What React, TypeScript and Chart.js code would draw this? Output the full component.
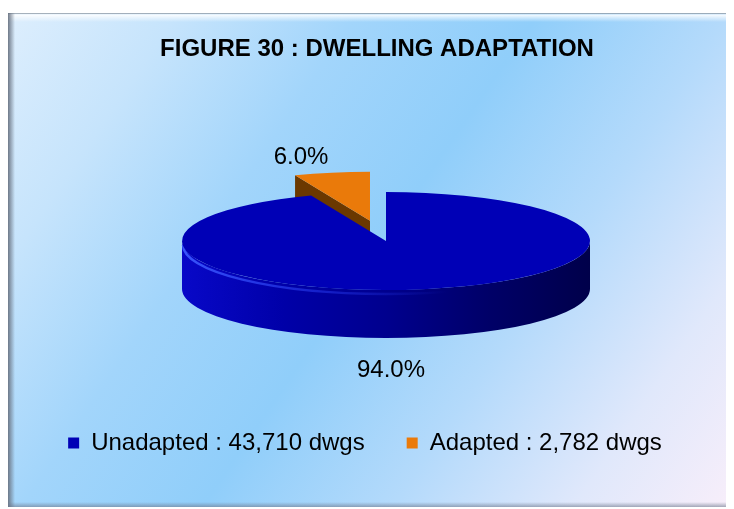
import React, { useEffect, useRef } from "react";
import { Chart, registerables } from "chart.js";

Chart.register(...registerables);

// ---------------- data ----------------
const TITLE = "FIGURE 30 : DWELLING ADAPTATION";
const CATEGORIES = ["Unadapted", "Adapted"];
const DWELLINGS = [43710, 2782];
const UNIT = "dwgs";
const EXPLODED = [false, true];

// ---------------- style ----------------
const FONT = '"Liberation Sans", Arial, Helvetica, sans-serif';
const TOP_COLORS = ["#0000B6", "#EA7A0A"];
const FACE_COLORS = ["#00008C", "#6B3800"];
const SIDE_STOPS: [number, string][][] = [
  [
    [0, "#0808C8"],
    [0.25, "#0000A8"],
    [0.5, "#00008E"],
    [0.75, "#000068"],
    [1, "#00004A"],
  ],
  [
    [0, "#B05A06"],
    [1, "#5A2E00"],
  ],
];
// projected pie geometry (canvas px)
const PIE = { cx: 378, cy: 233, rx: 204, ry: 49, depth: 48, explode: 0.42 };
// label anchor offsets relative to the projected pie centre
const LABEL_OFFSETS = [
  [5, 129],
  [-85, -84],
];
const TITLE_POS = [369, 41];

const total = DWELLINGS.reduce((a, b) => a + b, 0);

const backgroundPlugin = {
  id: "panelBackground",
  beforeDraw(chart: any) {
    const ctx = chart.ctx as CanvasRenderingContext2D;
    const W = chart.width;
    const H = chart.height;
    ctx.save();
    ctx.fillStyle = "#ffffff";
    ctx.fillRect(0, 0, W, H);
    const x0 = 0, y0 = 5, x1 = 725, y1 = 499;
    const g = ctx.createLinearGradient(x0, y0, x1, y1);
    g.addColorStop(0, "#DDEEFD");
    g.addColorStop(0.16, "#C6E4FC");
    g.addColorStop(0.33, "#A2D5FB");
    g.addColorStop(0.5, "#90CEFA");
    g.addColorStop(0.68, "#B4DAFB");
    g.addColorStop(0.85, "#E0E8FB");
    g.addColorStop(1, "#F8EEFA");
    ctx.fillStyle = g;
    ctx.fillRect(x0, y0, x1 - x0, y1 - y0);
    // top bevel
    let b = ctx.createLinearGradient(0, y0, 0, y0 + 9);
    b.addColorStop(0, "rgba(255,255,255,0.0)");
    b.addColorStop(0.25, "rgba(255,255,255,0.85)");
    b.addColorStop(1, "rgba(255,255,255,0)");
    ctx.fillStyle = b;
    ctx.fillRect(x0, y0, x1 - x0, 9);
    ctx.fillStyle = "rgba(140,150,160,0.7)";
    ctx.fillRect(x0, y0, x1 - x0, 1);
    // left bevel
    b = ctx.createLinearGradient(x0, 0, x0 + 7, 0);
    b.addColorStop(0, "rgba(105,115,130,0.95)");
    b.addColorStop(1, "rgba(105,115,130,0)");
    ctx.fillStyle = b;
    ctx.fillRect(x0, y0, 7, y1 - y0);
    // bottom bevel
    b = ctx.createLinearGradient(0, y1 - 5, 0, y1);
    b.addColorStop(0, "rgba(110,120,140,0)");
    b.addColorStop(1, "rgba(110,120,140,0.6)");
    ctx.fillStyle = b;
    ctx.fillRect(x0, y1 - 5, x1 - x0, 5);
    // right bevel
    b = ctx.createLinearGradient(x1 - 6, 0, x1, 0);
    b.addColorStop(0, "rgba(150,160,175,0)");
    b.addColorStop(1, "rgba(150,160,175,0.55)");
    ctx.fillStyle = b;
    ctx.fillRect(x1 - 6, y0, 6, y1 - y0);
    ctx.restore();
  },
};

const pie3dPlugin = {
  id: "pie3d",
  beforeDatasetsDraw(chart: any) {
    const meta = chart.getDatasetMeta(0);
    const arcs = meta.data as any[];
    if (!arcs || !arcs.length) return;
    const ctx = chart.ctx as CanvasRenderingContext2D;
    const R = arcs[0].outerRadius;
    const ox = arcs[0].x;
    const oy = arcs[0].y;
    const { cx, cy, rx, ry, depth, explode } = PIE;

    const shift = (i: number) => {
      if (!EXPLODED[i]) return [0, 0];
      const a = arcs[i];
      const mid = (a.startAngle + a.endAngle) / 2;
      return [rx * explode * Math.cos(mid), ry * explode * Math.sin(mid)];
    };
    const pt = (a: number, r: number, dx: number, dy: number, z: number) => [
      cx + dx + rx * r * Math.cos(a),
      cy + dy + ry * r * Math.sin(a) + z,
    ];

    ctx.save();
    // radial cut faces
    arcs.forEach((arc, i) => {
      const [dx, dy] = shift(i);
      const faces = [
        { ang: arc.startAngle, ny: -Math.cos(arc.startAngle) },
        { ang: arc.endAngle, ny: Math.cos(arc.endAngle) },
      ];
      faces.forEach((f) => {
        if (f.ny <= 0.01) return;
        const c0 = pt(0, 0, dx, dy, 0);
        const r0 = pt(f.ang, 1, dx, dy, 0);
        const r1 = pt(f.ang, 1, dx, dy, depth);
        const c1 = pt(0, 0, dx, dy, depth);
        ctx.beginPath();
        ctx.moveTo(c0[0], c0[1]);
        ctx.lineTo(r0[0], r0[1]);
        ctx.lineTo(r1[0], r1[1]);
        ctx.lineTo(c1[0], c1[1]);
        ctx.closePath();
        ctx.fillStyle = FACE_COLORS[i];
        ctx.fill();
      });
    });

    // outer rim (front half only)
    const TAU = Math.PI * 2;
    arcs.forEach((arc, i) => {
      const [dx, dy] = shift(i);
      let s = arc.startAngle % TAU;
      if (s < 0) s += TAU;
      const e = s + (arc.endAngle - arc.startAngle);
      const windows = [
        [0, Math.PI],
        [TAU, TAU + Math.PI],
      ];
      windows.forEach(([w0, w1]) => {
        const a1 = Math.max(s, w0);
        const a2 = Math.min(e, w1);
        if (a2 - a1 <= 0.001) return;
        const g = ctx.createLinearGradient(cx + dx - rx, 0, cx + dx + rx, 0);
        SIDE_STOPS[i].forEach(([o, c]) => g.addColorStop(o, c));
        ctx.beginPath();
        ctx.ellipse(cx + dx, cy + dy, rx, ry, 0, a1, a2, false);
        ctx.ellipse(cx + dx, cy + dy + depth, rx, ry, 0, a2, a1, true);
        ctx.closePath();
        ctx.fillStyle = g;
        ctx.fill();
        if (i === 0) {
          // bevel highlight along the front rim
          const h = ctx.createLinearGradient(cx + dx - rx, 0, cx + dx + rx * 0.3, 0);
          h.addColorStop(0, "rgba(60,90,255,0.95)");
          h.addColorStop(0.5, "rgba(40,60,240,0.55)");
          h.addColorStop(1, "rgba(40,60,240,0)");
          ctx.beginPath();
          ctx.ellipse(cx + dx, cy + dy + 4, rx - 1, ry, 0, Math.max(a1, Math.PI * 0.35), a2, false);
          ctx.strokeStyle = h;
          ctx.lineWidth = 2.5;
          ctx.stroke();
        }
      });
    });

    // top faces drawn by the arc elements themselves, projected
    arcs.forEach((arc, i) => {
      const [dx, dy] = shift(i);
      ctx.save();
      ctx.translate(cx + dx, cy + dy);
      ctx.scale(rx / R, ry / R);
      ctx.translate(-ox, -oy);
      arc.draw(ctx);
      ctx.restore();
    });
    ctx.restore();
    return false;
  },
  afterDraw(chart: any) {
    const ctx = chart.ctx as CanvasRenderingContext2D;
    ctx.save();
    ctx.fillStyle = "#000";
    ctx.textAlign = "center";
    ctx.textBaseline = "middle";
    ctx.font = `bold 24px ${FONT}`;
    ctx.fillText(TITLE, TITLE_POS[0], TITLE_POS[1]);
    ctx.font = `24px ${FONT}`;
    DWELLINGS.forEach((v, i) => {
      const pct = ((v / total) * 100).toFixed(1) + "%";
      ctx.fillText(pct, PIE.cx + LABEL_OFFSETS[i][0], PIE.cy + LABEL_OFFSETS[i][1]);
    });
    ctx.restore();
  },
};

export default function App() {
  const ref = useRef<HTMLCanvasElement | null>(null);
  useEffect(() => {
    document.documentElement.style.overflow = "hidden";
    document.body.style.overflow = "hidden";
    const canvas = ref.current;
    if (!canvas) return;
    const chart = new Chart(canvas, {
      type: "pie",
      data: {
        labels: CATEGORIES,
        datasets: [
          {
            data: DWELLINGS,
            backgroundColor: TOP_COLORS,
            borderWidth: 0,
            offset: 0,
            hoverOffset: 0,
          },
        ],
      },
      options: {
        responsive: false,
        animation: false,
        events: [],
        layout: { padding: { top: 60, bottom: 44, left: 0, right: 12 } },
        plugins: {
          title: { display: false },
          tooltip: { enabled: false },
          legend: {
            display: true,
            position: "bottom",
            labels: {
              boxWidth: 11,
              boxHeight: 11,
              padding: 42,
              color: "#000",
              font: { size: 24, family: FONT },
              generateLabels: () =>
                CATEGORIES.map((c, i) => ({
                  text: `${c} : ${DWELLINGS[i].toLocaleString("en-US")} ${UNIT}`,
                  fillStyle: TOP_COLORS[i],
                  strokeStyle: TOP_COLORS[i],
                  lineWidth: 0,
                  hidden: false,
                  index: i,
                  datasetIndex: 0,
                  fontColor: "#000",
                })),
            },
          },
        },
      },
      plugins: [backgroundPlugin, pie3dPlugin],
    } as any);
    return () => chart.destroy();
  }, []);
  return (
    <div style={{ width: 726, height: 501 }}>
      <canvas ref={ref} width={726} height={501} style={{ display: "block", width: 726, height: 501 }} />
    </div>
  );
}
